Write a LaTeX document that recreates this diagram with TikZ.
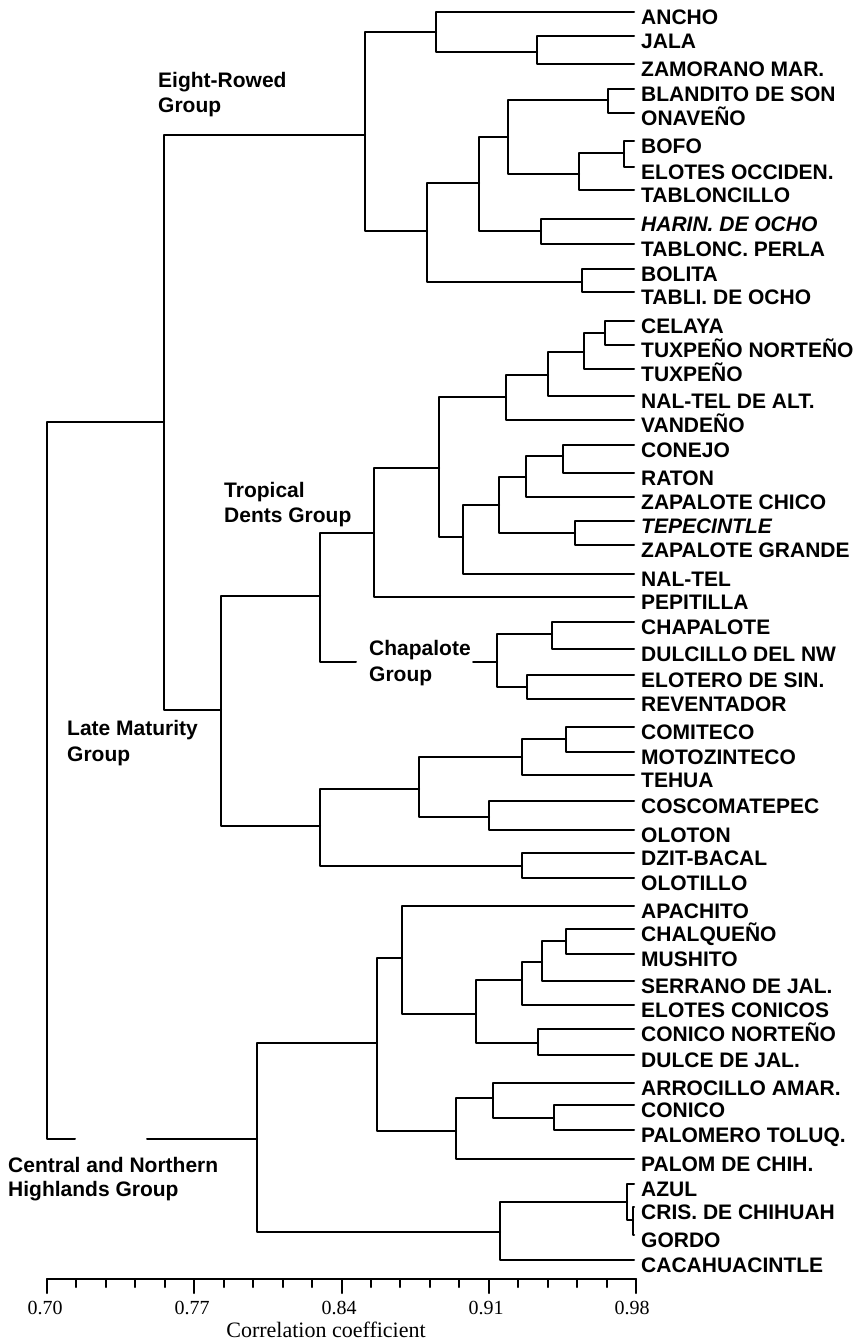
\documentclass[tikz,border=0pt]{standalone}
\usepackage{fontspec}
\setmainfont{Liberation Sans}
\newfontfamily\axisfont{Liberation Serif}
\newcommand\dleaf[4][]{\coordinate (#2) at (634,#3);
  \node[leaflab,#1] (#2-t) at (641,{#3+12}) {#4};}
\newcommand\dnode[5]{\coordinate (#1) at (#2,#3);
  \draw[br] (#4) -| (#1) |- (#5);}
\begin{document}
\begin{tikzpicture}[x=1pt,y=-1pt,
  br/.style={line width=2pt, line join=round, line cap=round},
  leaflab/.style={anchor=base west, inner sep=0pt, font=\fontsize{21}{21}\selectfont\bfseries},
  grouplab/.style={anchor=base west, inner sep=0pt, font=\fontsize{21}{24}\selectfont\bfseries},
  ticklab/.style={anchor=base, inner sep=0pt, font=\fontsize{20}{20}\selectfont\axisfont},
]
\useasboundingbox (0,0) rectangle (863,1344);
% ---------- leaves ----------
\dleaf{L0}{12}{ANCHO}
\dleaf{L1}{36}{JALA}
\dleaf{L2}{64}{ZAMORANO MAR.}
\dleaf{L3}{89}{BLANDITO DE SON}
\dleaf{L4}{113}{ONAVEÑO}
\dleaf{L5}{141}{BOFO}
\dleaf{L6}{167}{ELOTES OCCIDEN.}
\dleaf{L7}{190}{TABLONCILLO}
\dleaf[font=\fontsize{21}{21}\selectfont\bfseries\itshape]{L8}{219}{HARIN. DE OCHO}
\dleaf{L9}{244}{TABLONC. PERLA}
\dleaf{L10}{269}{BOLITA}
\dleaf{L11}{292}{TABLI. DE OCHO}
\dleaf{L12}{321}{CELAYA}
\dleaf{L13}{345}{TUXPEÑO NORTEÑO}
\dleaf{L14}{369}{TUXPEÑO}
\dleaf{L15}{396}{NAL-TEL DE ALT.}
\dleaf{L16}{420}{VANDEÑO}
\dleaf{L17}{445}{CONEJO}
\dleaf{L18}{473}{RATON}
\dleaf{L19}{497}{ZAPALOTE CHICO}
\dleaf[font=\fontsize{21}{21}\selectfont\bfseries\itshape]{L20}{521}{TEPECINTLE}
\dleaf{L21}{545}{ZAPALOTE GRANDE}
\dleaf{L22}{574}{NAL-TEL}
\dleaf{L23}{597}{PEPITILLA}
\dleaf{L24}{622}{CHAPALOTE}
\dleaf{L25}{649}{DULCILLO DEL NW}
\dleaf{L26}{675}{ELOTERO DE SIN.}
\dleaf{L27}{699}{REVENTADOR}
\dleaf{L28}{727}{COMITECO}
\dleaf{L29}{752}{MOTOZINTECO}
\dleaf{L30}{775}{TEHUA}
\dleaf{L31}{801}{COSCOMATEPEC}
\dleaf{L32}{830}{OLOTON}
\dleaf{L33}{853}{DZIT-BACAL}
\dleaf{L34}{878}{OLOTILLO}
\dleaf{L35}{906}{APACHITO}
\dleaf{L36}{929}{CHALQUEÑO}
\dleaf{L37}{954}{MUSHITO}
\dleaf{L38}{981}{SERRANO DE JAL.}
\dleaf{L39}{1005}{ELOTES CONICOS}
\dleaf{L40}{1029}{CONICO NORTEÑO}
\dleaf{L41}{1055}{DULCE DE JAL.}
\dleaf{L42}{1083}{ARROCILLO AMAR.}
\dleaf{L43}{1105}{CONICO}
\dleaf{L44}{1130}{PALOMERO TOLUQ.}
\dleaf{L45}{1159}{PALOM DE CHIH.}
\dleaf{L46}{1184}{AZUL}
\dleaf{L47}{1207}{CRIS. DE CHIHUAH}
\dleaf{L48}{1235}{GORDO}
\dleaf{L49}{1260}{CACAHUACINTLE}
% ---------- Eight-Rowed ----------
\dnode{jz}{537}{52}{L1}{L2}
\dnode{ajz}{436}{32}{L0}{jz}
\dnode{bo}{608}{100}{L3}{L4}
\dnode{be}{624}{153}{L5}{L6}
\dnode{bet}{579}{174}{be}{L7}
\dnode{bfive}{508}{137}{bo}{bet}
\dnode{ht}{541}{231}{L8}{L9}
\dnode{bseven}{479}{183}{bfive}{ht}
\dnode{bt}{582}{282}{L10}{L11}
\dnode{bnine}{427}{231}{bseven}{bt}
\dnode{eight}{365}{135}{ajz}{bnine}
% ---------- Tropical dents ----------
\dnode{ct}{605}{333}{L12}{L13}
\dnode{ctt}{584}{352}{ct}{L14}
\dnode{ctn}{548}{375}{ctt}{L15}
\dnode{ctv}{506}{397}{ctn}{L16}
\dnode{cr}{563}{456}{L17}{L18}
\dnode{crz}{526}{477}{cr}{L19}
\dnode{tz}{575}{533}{L20}{L21}
\dnode{crt}{499}{505}{crz}{tz}
\dnode{crn}{463}{537}{crt}{L22}
\dnode{tdone}{439}{468}{ctv}{crn}
\dnode{td}{374}{533}{tdone}{L23}
% ---------- Chapalote ----------
\dnode{cd}{552}{634}{L24}{L25}
\dnode{er}{527}{687}{L26}{L27}
\dnode{ch}{497}{662}{cd}{er}
\coordinate (chstubA) at (356,662);
\coordinate (chstubB) at (473,662);
\draw[br] (chstubB) -- (ch);
\coordinate (tc) at (320,596);
\draw[br] (td) -| (tc) |- (chstubA);
% ---------- others of late maturity ----------
\dnode{cm}{566}{739}{L28}{L29}
\dnode{cmt}{522}{757}{cm}{L30}
\dnode{co}{489}{817}{L31}{L32}
\dnode{cmco}{419}{789}{cmt}{co}
\dnode{do}{522}{866}{L33}{L34}
\dnode{oth}{320}{826}{cmco}{do}
\dnode{lm}{221}{710}{tc}{oth}
\dnode{top}{164}{422}{eight}{lm}
% ---------- Highlands ----------
\dnode{cmtwo}{566}{941}{L36}{L37}
\dnode{cms}{542}{962}{cmtwo}{L38}
\dnode{cmse}{522}{980}{cms}{L39}
\dnode{cdtwo}{538}{1043}{L40}{L41}
\dnode{hlone}{476}{1014}{cmse}{cdtwo}
\dnode{ap}{402}{958}{L35}{hlone}
\dnode{cp}{554}{1118}{L43}{L44}
\dnode{acp}{493}{1098}{L42}{cp}
\dnode{acpp}{456}{1131}{acp}{L45}
\dnode{hltwo}{377}{1043}{ap}{acpp}
\dnode{cg}{633}{1220}{L47}{L48}
\dnode{azul}{627}{1202}{L46}{cg}
\dnode{cac}{500}{1232}{azul}{L49}
\dnode{hl}{257}{1139}{hltwo}{cac}
% ---------- root ----------
\coordinate (root) at (47,780);
\coordinate (gapA) at (75,1139);
\coordinate (gapB) at (147,1139);
\draw[br] (top) -| (root) |- (gapA);
\draw[br] (gapB) -- (hl);
% ---------- group labels ----------
\node[grouplab] (g8a) at (158,87.5) {Eight-Rowed};
\node[grouplab] (g8b) at (158,112) {Group};
\node[grouplab] (gta) at (224,497) {Tropical};
\node[grouplab] (gtb) at (224,522) {Dents Group};
\node[grouplab] (gca) at (369,655.5) {Chapalote};
\node[grouplab] (gcb) at (369,681.5) {Group};
\node[grouplab] (gla) at (67,735) {Late Maturity};
\node[grouplab] (glb) at (67,761.5) {Group};
\node[grouplab] (gha) at (8,1172.5) {Central and Northern};
\node[grouplab] (ghb) at (8,1196.5) {Highlands Group};
% ---------- axis ----------
\coordinate (axA) at (47,1279);
\coordinate (axB) at (636,1279);
\draw[br] (axA) -- (axB);
\foreach \k in {0,...,20}{
  \pgfmathtruncatemacro\m{mod(\k,5)}
  \ifnum\m=0
    \draw[br] ({47+\k*29.45},1279) -- ++(0,14);
  \else
    \draw[br] ({47+\k*29.45},1279) -- ++(0,8);
  \fi
}
\node[ticklab] (t70) at (45,1314) {0.70};
\node[ticklab] (t77) at (192,1314) {0.77};
\node[ticklab] (t84) at (339,1314) {0.84};
\node[ticklab] (t91) at (486,1314) {0.91};
\node[ticklab] (t98) at (632,1314) {0.98};
\node[anchor=base, inner sep=0pt, font=\fontsize{22}{22}\selectfont\axisfont] (axl) at (326,1337) {Correlation coefficient};
\end{tikzpicture}
\end{document}
